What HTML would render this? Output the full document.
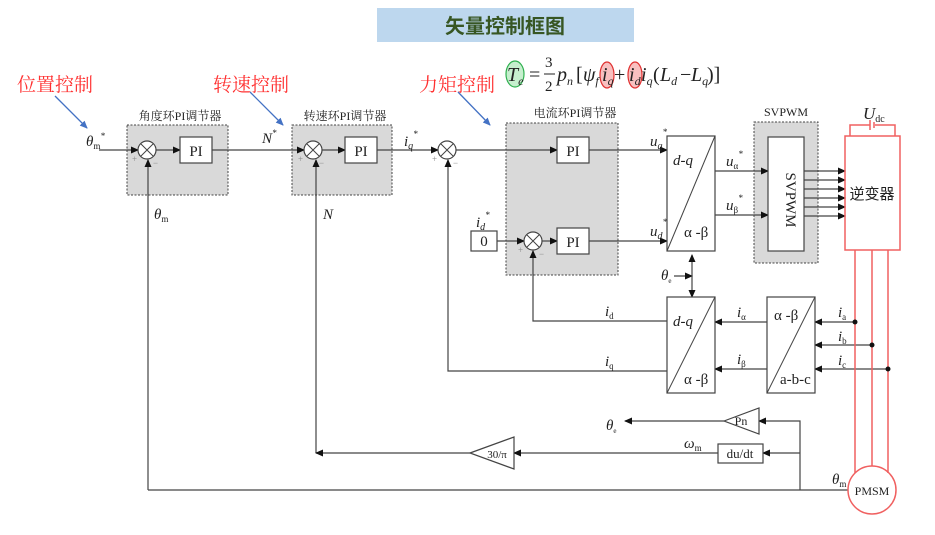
<!DOCTYPE html>
<html><head><meta charset="utf-8"><style>
body{margin:0;background:#fff}
svg{display:block}
text{font-family:"Liberation Serif","Noto Serif CJK SC",serif;fill:#222}
.cn{font-family:"Liberation Sans","Noto Sans CJK SC",sans-serif}
.l{stroke:#444;stroke-width:1.2;fill:none}
.b{stroke:#444;stroke-width:1.2;fill:#fff}
.d{stroke:#444;stroke-width:1;stroke-dasharray:2,1.5;fill:#d9d9d9}
.r{stroke:#f06060;stroke-width:1.5;fill:none}
</style></head><body>
<svg width="935" height="535" viewBox="0 0 935 535">
<defs>
<marker id="a" markerWidth="8" markerHeight="8" refX="7" refY="4" orient="auto" markerUnits="userSpaceOnUse"><path d="M0,0.5 L8,4 L0,7.5z" fill="#111"/></marker>
<marker id="bl" markerWidth="8" markerHeight="8" refX="7" refY="4" orient="auto" markerUnits="userSpaceOnUse"><path d="M0,0.5 L8,4 L0,7.5z" fill="#4472c4"/></marker>
<marker id="as" markerWidth="8" markerHeight="8" refX="1" refY="4" orient="auto" markerUnits="userSpaceOnUse"><path d="M8,0.5 L0,4 L8,7.5z" fill="#111"/></marker>
</defs>
<rect x="377" y="8" width="257" height="34" fill="#bdd7ee"/>
<text x="505" y="33" text-anchor="middle" class="cn" font-size="20" font-weight="bold" style="fill:#375623">矢量控制框图</text>

<g class="cn" font-size="19" style="fill:#ff3030">
<text x="17" y="91" style="fill:#ff3030">位置控制</text>
<text x="213" y="91" style="fill:#ff3030">转速控制</text>
<text x="419" y="91" style="fill:#ff3030">力矩控制</text>
</g>
<g stroke="#4472c4" stroke-width="1.3" marker-end="url(#bl)">
<line x1="55" y1="96" x2="87" y2="128"/>
<line x1="250" y1="92" x2="283" y2="125"/>
<line x1="458" y1="92" x2="490" y2="125"/>
</g>

<!-- formula -->
<ellipse cx="515" cy="74" rx="9" ry="13" fill="#c6efce" stroke="#30b050" stroke-width="1.2"/>
<ellipse cx="607" cy="75" rx="7" ry="13" fill="#f8c0c0" stroke="#e03030" stroke-width="1.2"/>
<ellipse cx="635" cy="75" rx="7" ry="13" fill="#f8c0c0" stroke="#e03030" stroke-width="1.2"/>
<g font-size="20">
<text x="507" y="81" font-style="italic">T<tspan font-size="12" dy="4">e</tspan></text>
<text x="529" y="81">=</text>
<text x="545" y="67" font-size="15">3</text><line x1="544" y1="74" x2="555" y2="74" stroke="#222"/><text x="545" y="91" font-size="15">2</text>
<text x="557" y="81" font-style="italic">p<tspan font-size="12" dy="4">n</tspan></text>
<text x="576" y="81">[</text>
<text x="583" y="81" font-style="italic">ψ<tspan font-size="12" dy="4">f</tspan></text>
<text x="602" y="81" font-style="italic">i<tspan font-size="12" dy="4">q</tspan></text>
<text x="614" y="81">+</text>
<text x="629" y="81" font-style="italic">i<tspan font-size="12" dy="4">d</tspan></text>
<text x="641" y="81" font-style="italic">i<tspan font-size="12" dy="4">q</tspan></text>
<text x="653" y="81">(</text>
<text x="660" y="81" font-style="italic">L<tspan font-size="12" dy="4">d</tspan></text>
<text x="680" y="81">−</text>
<text x="691" y="81" font-style="italic">L<tspan font-size="12" dy="4">q</tspan></text>
<text x="707" y="81">)]</text>
</g>

<!-- dashed boxes -->
<rect x="127" y="125" width="101" height="70" class="d"/>
<rect x="292" y="125" width="100" height="70" class="d"/>
<rect x="506" y="123" width="112" height="152" class="d"/>
<rect x="754" y="122" width="64" height="141" class="d"/>
<g class="cn" font-size="12" text-anchor="middle">
<text x="180" y="120">角度环PI调节器</text>
<text x="345" y="120">转速环PI调节器</text>
<text x="575" y="117">电流环PI调节器</text>
</g>
<text x="786" y="116" font-size="12" text-anchor="middle">SVPWM</text>

<!-- lines -->
<g class="l" marker-end="url(#a)">
<line x1="99" y1="150" x2="138" y2="150"/>
<line x1="156" y1="150" x2="180" y2="150"/>
<line x1="212" y1="150" x2="304" y2="150"/>
<line x1="322" y1="150" x2="345" y2="150"/>
<line x1="377" y1="150" x2="438" y2="150"/>
<line x1="456" y1="150" x2="557" y2="150"/>
<line x1="589" y1="150" x2="667" y2="150"/>
<line x1="497" y1="241" x2="524" y2="241"/>
<line x1="542" y1="241" x2="557" y2="241"/>
<line x1="589" y1="241" x2="667" y2="241"/>
<line x1="715" y1="171" x2="768" y2="171"/>
<line x1="715" y1="215" x2="768" y2="215"/>
<polyline points="148,490 148,160"/>
<polyline points="316,453 316,160"/>
<polyline points="668,371 448,371 448,160"/>
<polyline points="668,321 533,321 533,251"/>
<line x1="855" y1="322" x2="815" y2="322"/>
<line x1="872" y1="345" x2="815" y2="345"/>
<line x1="888" y1="369" x2="815" y2="369"/>
<line x1="767" y1="322" x2="715" y2="322"/>
<line x1="767" y1="369" x2="715" y2="369"/>
<line x1="674" y1="276" x2="692" y2="276"/>
<polyline points="800,490 800,421 759,421"/>
<line x1="724" y1="421" x2="625" y2="421"/>
<polyline points="800,453 763,453"/>
<line x1="718" y1="453" x2="514" y2="453"/>
<line x1="470" y1="453" x2="316" y2="453"/>
</g>
<line x1="848" y1="490" x2="148" y2="490" class="l"/>
<line x1="692" y1="255" x2="692" y2="297" class="l" marker-end="url(#a)" marker-start="url(#as)"/>
<g class="l" marker-end="url(#a)">
<line x1="804" y1="171" x2="845" y2="171"/><line x1="804" y1="180" x2="845" y2="180"/><line x1="804" y1="189" x2="845" y2="189"/>
<line x1="804" y1="198" x2="845" y2="198"/><line x1="804" y1="207" x2="845" y2="207"/><line x1="804" y1="216" x2="845" y2="216"/>
</g>

<!-- sums -->
<g class="b">
<circle cx="147" cy="150" r="9"/><circle cx="313" cy="150" r="9"/><circle cx="447" cy="150" r="9"/><circle cx="533" cy="241" r="9"/>
</g>
<g stroke="#444" stroke-width="1">
<path d="M141,144 L153,156 M153,144 L141,156"/><path d="M307,144 L319,156 M319,144 L307,156"/>
<path d="M441,144 L453,156 M453,144 L441,156"/><path d="M527,235 L539,247 M539,235 L527,247"/>
</g>
<g font-size="9" style="fill:#777">
<text x="132" y="162" style="fill:#888">+</text><text x="153" y="166" style="fill:#888">−</text>
<text x="298" y="162" style="fill:#888">+</text><text x="319" y="166" style="fill:#888">−</text>
<text x="432" y="162" style="fill:#888">+</text><text x="453" y="166" style="fill:#888">−</text>
<text x="518" y="253" style="fill:#888">+</text><text x="539" y="257" style="fill:#888">−</text>
</g>

<!-- PI boxes -->
<g class="b">
<rect x="180" y="137" width="32" height="26"/><rect x="345" y="137" width="32" height="26"/>
<rect x="557" y="137" width="32" height="26"/><rect x="557" y="228" width="32" height="26"/>
<rect x="471" y="231" width="26" height="20"/>
<rect x="667" y="136" width="48" height="115"/><rect x="667" y="297" width="48" height="96"/>
<rect x="767" y="297" width="48" height="96"/>
<rect x="768" y="137" width="36" height="114"/>
<rect x="718" y="444" width="45" height="19"/>
<polygon points="724,421 759,408 759,434"/><polygon points="470,453 514,437 514,469"/>
</g>
<g stroke="#444" stroke-width="1">
<line x1="667" y1="251" x2="715" y2="136"/><line x1="667" y1="393" x2="715" y2="297"/><line x1="767" y1="393" x2="815" y2="297"/>
</g>
<g font-size="15" text-anchor="middle">
<text x="196" y="156">PI</text><text x="361" y="156">PI</text><text x="573" y="156">PI</text><text x="573" y="247">PI</text>
<text x="484" y="246">0</text>
</g>
<g font-size="15">
<text x="673" y="165" font-style="italic">d-q</text><text x="684" y="237">α -β</text>
<text x="673" y="326" font-style="italic">d-q</text><text x="684" y="384">α -β</text>
<text x="774" y="320">α -β</text><text x="780" y="384">a-b-c</text>
</g>
<text x="792" y="194" font-size="15" text-anchor="middle" transform="rotate(90 786 194)">SVPWM</text>
<text x="741" y="425" font-size="12" text-anchor="middle">Pn</text>
<text x="740" y="458" font-size="13" text-anchor="middle">du/dt</text>
<text x="497" y="458" font-size="11" text-anchor="middle">30/π</text>

<!-- inverter / motor -->
<rect x="845" y="136" width="55" height="114" fill="#fff" class="r"/>
<text x="872" y="199" class="cn" font-size="15" text-anchor="middle">逆变器</text>
<polyline points="850,136 850,125 870,125" class="r"/><polyline points="875,125 895,125 895,136" class="r"/>
<line x1="870" y1="120" x2="870" y2="130" class="r"/><line x1="874" y1="122" x2="874" y2="128" class="r"/>
<text x="863" y="119" font-size="17" font-style="italic">U<tspan font-size="10" font-style="normal" dy="3">dc</tspan></text>
<line x1="855" y1="250" x2="855" y2="473" class="r"/><line x1="872" y1="250" x2="872" y2="466" class="r"/><line x1="888" y1="250" x2="888" y2="473" class="r"/>
<circle cx="872" cy="490" r="24" fill="#fff" class="r"/>
<text x="872" y="495" font-size="12" text-anchor="middle">PMSM</text>
<circle cx="855" cy="322" r="2.5" fill="#111"/><circle cx="872" cy="345" r="2.5" fill="#111"/><circle cx="888" cy="369" r="2.5" fill="#111"/>

<!-- labels -->
<g font-size="15" font-style="italic">
<text x="86" y="146">θ<tspan font-size="9" font-style="normal" dy="3">m</tspan><tspan font-size="9" dy="-10">*</tspan></text>
<text x="154" y="219">θ<tspan font-size="9" font-style="normal" dy="3">m</tspan></text>
<text x="262" y="143">N<tspan font-size="9" dy="-7">*</tspan></text>
<text x="323" y="219">N</text>
<text x="404" y="146">i<tspan font-size="10" dy="3">q</tspan><tspan font-size="9" dy="-12">*</tspan></text>
<text x="476" y="227">i<tspan font-size="10" dy="3">d</tspan><tspan font-size="9" dy="-12">*</tspan></text>
<text x="650" y="146">u<tspan font-size="10" dy="3">q</tspan><tspan font-size="9" dy="-14">*</tspan></text>
<text x="650" y="236">u<tspan font-size="10" dy="3">d</tspan><tspan font-size="9" dy="-14">*</tspan></text>
<text x="726" y="166">u<tspan font-size="9" font-style="normal" dy="3">α</tspan><tspan font-size="9" dy="-12">*</tspan></text>
<text x="726" y="210">u<tspan font-size="9" font-style="normal" dy="3">β</tspan><tspan font-size="9" dy="-12">*</tspan></text>
<text x="661" y="280">θ<tspan font-size="7" font-style="normal" dy="3">e</tspan></text>
<text x="605" y="316">i<tspan font-size="9" font-style="normal" dy="3">d</tspan></text>
<text x="605" y="366">i<tspan font-size="9" font-style="normal" dy="3">q</tspan></text>
<text x="737" y="317">i<tspan font-size="9" font-style="normal" dy="3">α</tspan></text>
<text x="737" y="364">i<tspan font-size="9" font-style="normal" dy="3">β</tspan></text>
<text x="838" y="317">i<tspan font-size="9" font-style="normal" dy="3">a</tspan></text>
<text x="838" y="341">i<tspan font-size="9" font-style="normal" dy="3">b</tspan></text>
<text x="838" y="365">i<tspan font-size="9" font-style="normal" dy="3">c</tspan></text>
<text x="606" y="430">θ<tspan font-size="7" font-style="normal" dy="3">e</tspan></text>
<text x="684" y="448">ω<tspan font-size="9" font-style="normal" dy="3">m</tspan></text>
<text x="832" y="484">θ<tspan font-size="9" font-style="normal" dy="3">m</tspan></text>
</g>
</svg>
</body></html>
